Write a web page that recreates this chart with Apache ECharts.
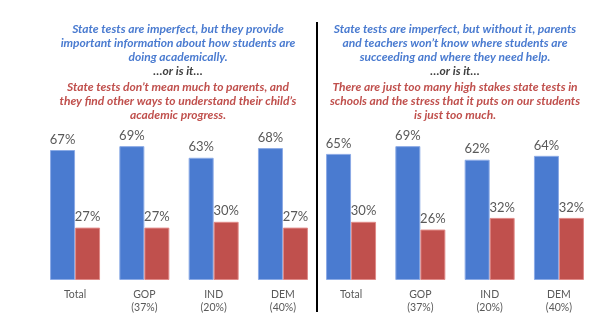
<!DOCTYPE html>
<html><head><meta charset="utf-8">
<script src="https://cdn.jsdelivr.net/npm/echarts@6/dist/echarts.min.js"></script>
<style>html,body{margin:0;padding:0;background:#fff}#c{width:615px;height:327px}</style>
</head><body><div id="c"></div>
<script>
var categories = ['Total', 'GOP\n(37%)', 'IND\n(20%)', 'DEM\n(40%)'];
var leftBlue = [67, 69, 63, 68];
var leftRed = [27, 27, 30, 27];
var rightBlue = [65, 69, 62, 64];
var rightRed = [30, 26, 32, 32];
var leftBlueText = ['State tests are imperfect, but they provide', 'important information about how students are', 'doing academically.'];
var leftRedText = ['State tests don\u2019t mean much to parents, and', 'they find other ways to understand their child\u2019s', 'academic progress.'];
var rightBlueText = ['State tests are imperfect, but without it, parents', 'and teachers won\u2019t know where students are', 'succeeding and where they need help.'];
var rightRedText = ['There are just too many high stakes state tests in', 'schools and the stress that it puts on our students', 'is just too much.'];
var orText = '\u2026or is it\u2026';

var BLUE = '#4a7bd0', RED = '#c0504d';
var titleFont = 'italic bold 12px Lato';
function textBlock(cx, blues, reds) {
  var els = [];
  var y = 29;
  blues.forEach(function (t) {
    els.push({type: 'text', x: cx, y: y, style: {text: t, fill: '#4a7bd0', font: titleFont, textAlign: 'center', textVerticalAlign: 'middle'}});
    y += 14;
  });
  els.push({type: 'text', x: cx, y: y, style: {text: orText, fill: '#404040', font: titleFont, textAlign: 'center', textVerticalAlign: 'middle'}});
  y += 16;
  reds.forEach(function (t) {
    els.push({type: 'text', x: cx, y: y, style: {text: t, fill: '#c0504d', font: titleFont, textAlign: 'center', textVerticalAlign: 'middle'}});
    y += 14;
  });
  return els;
}

var graphics = [].concat(textBlock(178, leftBlueText, leftRedText), textBlock(455, rightBlueText, rightRedText));
graphics.push({type: 'line', shape: {x1: 317, y1: 22, x2: 317, y2: 312}, style: {stroke: '#000', lineWidth: 2}});

function xAx(i) {
  return {
    type: 'category', gridIndex: i, data: categories,
    axisLine: {show: false}, axisTick: {show: false},
    axisLabel: {color: '#595959', fontFamily: 'Lato', fontSize: 10.5, lineHeight: 13, margin: 8}
  };
}
function yAx(i) {
  return {type: 'value', gridIndex: i, min: 0, max: 100, show: false, splitLine: {show: false}};
}
function bar(data, color, border, i) {
  return {
    type: 'bar', xAxisIndex: i, yAxisIndex: i, data: data, barWidth: 25, barGap: '0%',
    itemStyle: {color: color, borderColor: border, borderWidth: 1},
    label: {show: true, position: 'top', distance: 4, formatter: '{c}%', color: '#595959', fontFamily: 'Lato', fontSize: 13},
    animation: false
  };
}

var chart = echarts.init(document.getElementById('c'));
chart.setOption({
  animation: false,
  grid: [
    {left: 40.4, width: 277.2, top: 86, bottom: 47},
    {left: 316.4, width: 277.2, top: 86, bottom: 47}
  ],
  xAxis: [xAx(0), xAx(1)],
  yAxis: [yAx(0), yAx(1)],
  series: [
    bar(leftBlue, BLUE, '#8cabe6', 0),
    bar(leftRed, RED, '#e08a88', 0),
    bar(rightBlue, BLUE, '#8cabe6', 1),
    bar(rightRed, RED, '#e08a88', 1)
  ],
  graphic: graphics
});
</script></body></html>
